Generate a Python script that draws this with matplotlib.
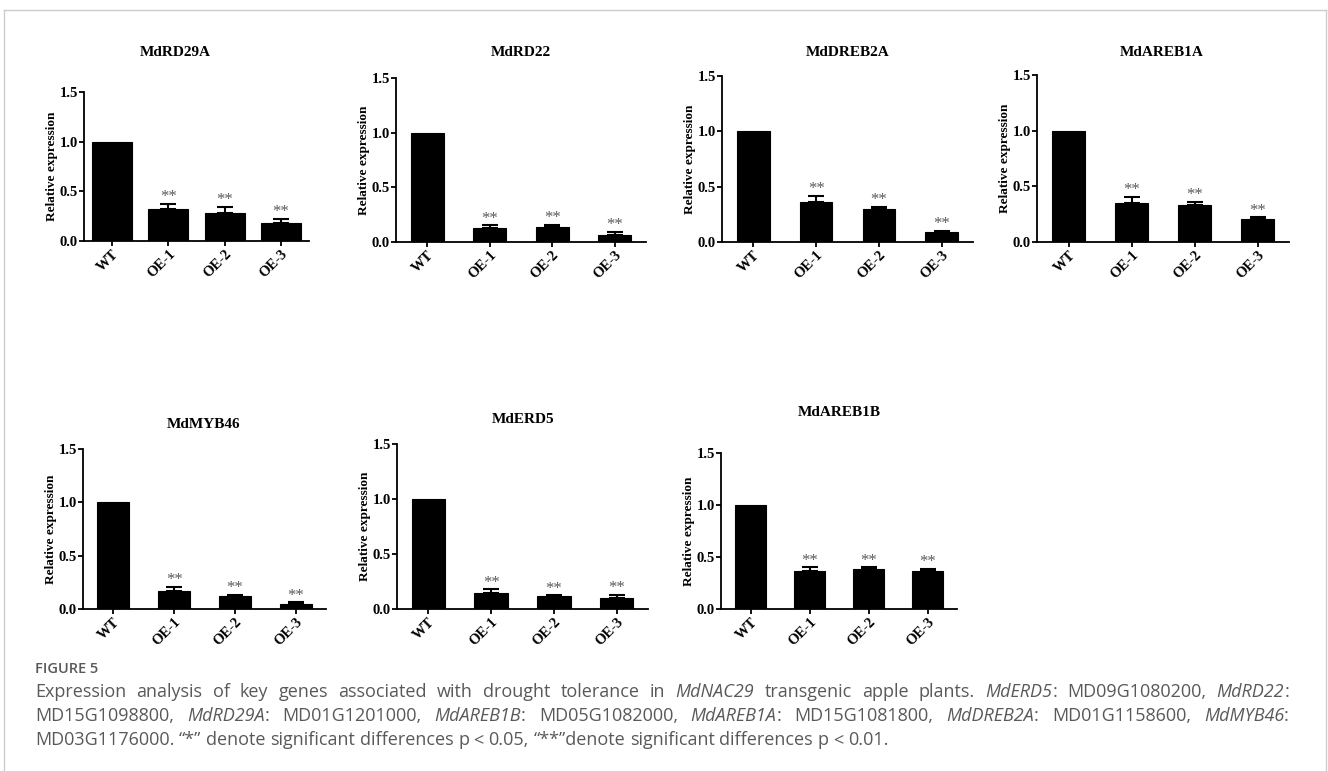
import matplotlib
matplotlib.use("Agg")
import matplotlib.pyplot as plt
from matplotlib.lines import Line2D

W, H = 1328, 771

genes = ['MdRD29A', 'MdRD22', 'MdDREB2A', 'MdAREB1A', 'MdMYB46', 'MdERD5', 'MdAREB1B']
lines = ['WT', 'OE-1', 'OE-2', 'OE-3']

# relative expression (mean) and upper error (SD) per gene
rd29a = [1.0, 0.32, 0.28, 0.18]
rd29a_err = [0, 0.05, 0.06, 0.04]
rd22 = [1.0, 0.13, 0.14, 0.065]
rd22_err = [0, 0.022, 0.016, 0.027]
dreb2a = [1.0, 0.365, 0.295, 0.09]
dreb2a_err = [0, 0.05, 0.02, 0.012]
areb1a = [1.0, 0.35, 0.33, 0.205]
areb1a_err = [0, 0.058, 0.03, 0.018]
myb46 = [1.0, 0.17, 0.12, 0.05]
myb46_err = [0, 0.04, 0.015, 0.012]
erd5 = [1.0, 0.15, 0.115, 0.097]
erd5_err = [0, 0.03, 0.009, 0.033]
areb1b = [1.0, 0.37, 0.385, 0.37]
areb1b_err = [0, 0.03, 0.015, 0.016]

values = [rd29a, rd22, dreb2a, areb1a, myb46, erd5, areb1b]
errors = [rd29a_err, rd22_err, dreb2a_err, areb1a_err, myb46_err, erd5_err, areb1b_err]
signif = ['', '**', '**', '**']

# panel boxes in pixels: left, top(y=1.5), right, bottom(y=0), title x, title y, bar width
layout = [
    (84, 92, 309, 241, 175, 52, 0.71),
    (396, 78, 646, 242, 521, 53, 0.53),
    (722, 76, 973, 242, 848, 53, 0.52),
    (1037, 75, 1289, 242, 1162, 52, 0.53),
    (83, 449, 326, 609, 204, 424, 0.53),
    (397, 444, 648, 609, 523, 420, 0.53),
    (721, 453, 957, 609, 839, 413, 0.53),
]

serif = 'Liberation Serif'
plt.rcParams['font.family'] = serif
plt.rcParams['font.weight'] = 'bold'

fig = plt.figure(figsize=(W / 100, H / 100), dpi=100)
fig.patch.set_facecolor('white')

for gene, vals, errs, box in zip(genes, values, errors, layout):
    l, t, r, b, tx, ty, bw = box
    ax = fig.add_axes([l / W, 1 - b / H, (r - l) / W, (b - t) / H])
    x = list(range(len(lines)))
    ax.bar(x, vals, width=bw, color='black', edgecolor='black', linewidth=0.8, zorder=2)
    ax.errorbar(x[1:], vals[1:], yerr=[[0] * 3, errs[1:]], fmt='none', ecolor='black',
                elinewidth=1.5, capsize=6, capthick=1.5, zorder=3)
    for xi, v, e, s in zip(x, vals, errs, signif):
        if s:
            ax.text(xi, v + e - 0.012, s, ha='center', va='bottom', fontsize=12,
                    color='#5a5a5a', fontweight='normal')
    ax.set_xlim(-0.5, 3.5)
    ax.set_ylim(0, 1.5)
    ax.set_yticks([0, 0.5, 1.0, 1.5])
    ax.set_yticklabels(['0.0', '0.5', '1.0', '1.5'], fontsize=10.5, fontweight='bold')
    ax.set_xticks(x)
    ax.set_xticklabels(lines, rotation=45, ha='right', rotation_mode='anchor',
                       fontsize=10.5, fontweight='bold')
    for sp in ['top', 'right']:
        ax.spines[sp].set_visible(False)
    for sp in ['left', 'bottom']:
        ax.spines[sp].set_linewidth(1.3)
    ax.tick_params(axis='y', length=3.5, width=1.3, direction='out', pad=1)
    ax.tick_params(axis='x', length=3.5, width=1.3, direction='out', pad=1)
    ax.set_ylabel('Relative expression', fontweight='bold', fontsize=9.5, labelpad=1)
    fig.text(tx / W, 1 - ty / H, gene, ha='center', va='center',
             fontweight='bold', fontsize=11)

# light frame around the figure
frame = '#cccccc'
fig.add_artist(Line2D([4 / W, 4 / W], [0, 1 - 10 / H], transform=fig.transFigure, color=frame, lw=1))
fig.add_artist(Line2D([4 / W, 1326 / W], [1 - 10 / H, 1 - 10 / H], transform=fig.transFigure, color=frame, lw=1))
fig.add_artist(Line2D([1326 / W, 1326 / W], [0, 1 - 10 / H], transform=fig.transFigure, color=frame, lw=1))

# caption (justified like the journal layout, last line left aligned)
cap_font = 'Open Sans'
cap_col = '#595959'
cap_size = 13
fig.text(35 / W, 1 - 669 / H, 'FIGURE 5', ha='left', va='center', family=cap_font,
         fontweight='semibold', fontsize=10.5, color=cap_col)

caption = [
    [('Expression analysis of key genes associated with drought tolerance in ', 'normal'),
     ('MdNAC29', 'italic'), (' transgenic apple plants. ', 'normal'), ('MdERD5', 'italic'),
     (': MD09G1080200, ', 'normal'), ('MdRD22', 'italic'), (':', 'normal')],
    [('MD15G1098800, ', 'normal'), ('MdRD29A', 'italic'), (': MD01G1201000, ', 'normal'),
     ('MdAREB1B', 'italic'), (': MD05G1082000, ', 'normal'), ('MdAREB1A', 'italic'),
     (': MD15G1081800, ', 'normal'), ('MdDREB2A', 'italic'), (': MD01G1158600, ', 'normal'),
     ('MdMYB46', 'italic'), (':', 'normal')],
    [('MD03G1176000. \u201c*\u201d denote significant differences p < 0.05, \u201c**\u201ddenote significant differences p < 0.01.', 'normal')],
]
caption_y = [692, 716, 740]
justify = [True, True, False]
x_start, x_end = 35, 1289

renderer = fig.canvas.get_renderer()


def text_width(s, style='normal'):
    t = fig.text(0, 0, s, family=cap_font, style=style, fontweight='normal', fontsize=cap_size)
    w = t.get_window_extent(renderer=renderer).width
    t.remove()
    return w


def split_words(segs):
    # break styled segments into words, remembering whether a space follows
    words = []
    for txt, style in segs:
        parts = txt.split(' ')
        for i, p in enumerate(parts):
            if p:
                words.append([p, style, False])
            if i < len(parts) - 1 and words:
                words[-1][2] = True
    return words


space_w = text_width('a a') - 2 * text_width('a')

for segs, yy, just in zip(caption, caption_y, justify):
    words = split_words(segs)
    arts = []
    for w, style, sp in words:
        t = fig.text(0, 1 - yy / H, w, ha='left', va='center', family=cap_font,
                     style=style, fontweight='normal', fontsize=cap_size, color=cap_col)
        arts.append((t, t.get_window_extent(renderer=renderer).width, sp))
    n_gaps = sum(1 for a in arts[:-1] if a[2])
    total = sum(a[1] for a in arts)
    gap = max((x_end - x_start - total) / n_gaps, space_w) if just else space_w
    xpix = x_start
    for t, w, sp in arts:
        t.set_x(xpix / W)
        xpix += w + (gap if sp else 0)

fig.savefig('out.png', dpi=100)
